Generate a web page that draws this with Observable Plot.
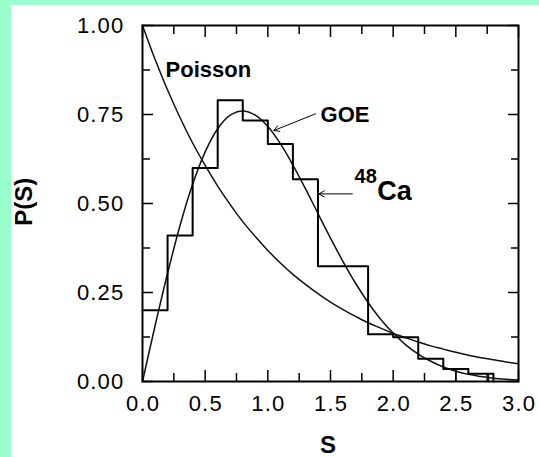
<!DOCTYPE html>
<html><head><meta charset="utf-8">
<script src="https://cdn.jsdelivr.net/npm/d3@7"></script>
<script src="https://cdn.jsdelivr.net/npm/@observablehq/plot@0.6"></script>
<style>
html,body{margin:0;padding:0;background:#99ffcc;width:539px;height:457px;overflow:hidden}
#panel{position:absolute;left:11px;top:5px;width:528px;height:452px;background:#fff}
.ticklab text{letter-spacing:1.2px}
</style></head>
<body><div id="panel"></div>
<script>
// spacing values S
const sGrid = [0,0.1,0.2,0.3,0.4,0.5,0.6,0.7,0.8,0.9,1.0,1.1,1.2,1.3,1.4,1.5,1.6,1.7,1.8,1.9,2.0,2.1,2.2,2.3,2.4,2.5,2.6,2.7,2.8,2.9,3.0];
// Poisson curve values
const poisson = [1.00,0.905,0.819,0.741,0.670,0.607,0.549,0.497,0.449,0.407,0.368,0.333,0.301,0.273,0.247,0.223,0.202,0.183,0.165,0.150,0.135,0.123,0.111,0.100,0.091,0.082,0.074,0.067,0.061,0.055,0.050];
// GOE curve values
const goe = [0,0.156,0.304,0.439,0.554,0.645,0.710,0.748,0.760,0.748,0.716,0.668,0.608,0.542,0.472,0.403,0.337,0.276,0.222,0.175,0.136,0.103,0.077,0.057,0.041,0.029,0.020,0.014,0.009,0.006,0.004];
// 48Ca histogram
const binStarts = [0,0.2,0.4,0.6,0.8,1.0,1.2,1.4,1.6,1.8,2.0,2.2,2.4,2.6,2.8];
const binHeights = [0.20,0.41,0.60,0.79,0.733,0.667,0.568,0.324,0.324,0.133,0.124,0.064,0.035,0.022,0];
const tailS = [2.5,2.76];
const tailP = [0.035,0.022];
// ticks
const xLabels = [0,0.5,1.0,1.5,2.0,2.5,3.0];
const xMinor = [0.25,0.75,1.25,1.75,2.25,2.75];
const yLabels = [0,0.25,0.5,0.75,1.0];
const yMinor = [0.125,0.375,0.625,0.875];

const curveP = sGrid.map((s,i)=>({s, p: poisson[i]}));
const curveG = sGrid.map((s,i)=>({s, p: goe[i]}));
const hist = binStarts.map((s,i)=>({s, p: binHeights[i]}));
const tail = tailS.map((s,i)=>({s, p: tailP[i]}));

const font = "'Liberation Sans', Arial, Helvetica, sans-serif";
const majorLen = -11, minorLen = -8;

const chart = Plot.plot({
  width: 528, height: 452,
  marginLeft: 131, marginRight: 21, marginTop: 20, marginBottom: 76,
  style: {fontFamily: font, background: "transparent", color: "#000", overflow: "visible"},
  x: {domain: [0, 3], axis: null},
  y: {domain: [0, 1], axis: null},
  marks: [
    // inward ticks on all sides
    Plot.axisX(xLabels, {anchor: "bottom", tickSize: majorLen, tickFormat: () => "", label: null, strokeWidth: 1.5}),
    Plot.axisX(xMinor, {anchor: "bottom", tickSize: minorLen, tickFormat: () => "", label: null, strokeWidth: 1.5}),
    Plot.axisX(xLabels, {anchor: "top", tickSize: majorLen, tickFormat: () => "", label: null, strokeWidth: 1.5}),
    Plot.axisX(xMinor, {anchor: "top", tickSize: minorLen, tickFormat: () => "", label: null, strokeWidth: 1.5}),
    Plot.axisY(yLabels, {anchor: "left", tickSize: majorLen, tickFormat: () => "", label: null, strokeWidth: 1.5}),
    Plot.axisY(yMinor, {anchor: "left", tickSize: minorLen, tickFormat: () => "", label: null, strokeWidth: 1.5}),
    Plot.axisY(yLabels, {anchor: "right", tickSize: majorLen, tickFormat: () => "", label: null, strokeWidth: 1.5}),
    Plot.axisY(yMinor, {anchor: "right", tickSize: minorLen, tickFormat: () => "", label: null, strokeWidth: 1.5}),
    // tick labels
    Plot.axisX(xLabels, {anchor: "bottom", tickSize: 0, tickPadding: 14, dx: 0.6, tickFormat: d3.format(".1f"), label: null, fontSize: 22, className: "ticklab"}),
    Plot.axisY(yLabels, {anchor: "left", tickSize: 0, tickPadding: 18, tickFormat: d3.format(".2f"), label: null, fontSize: 22, className: "ticklab"}),
    // curves
    Plot.line(curveP, {x: "s", y: "p", curve: "catmull-rom", stroke: "#111", strokeWidth: 1.5}),
    Plot.line(curveG, {x: "s", y: "p", curve: "catmull-rom", stroke: "#111", strokeWidth: 1.5}),
    // histogram
    Plot.line(hist, {x: "s", y: "p", curve: "step-after", stroke: "#000", strokeWidth: 2}),
    Plot.ruleX(tail, {x: "s", y1: 0, y2: "p", stroke: "#000", strokeWidth: 1.5}),
    Plot.frame({stroke: "#000", strokeWidth: 2}),
    // annotations
    Plot.text(["Poisson"], {x: 0.184, y: 0.874, textAnchor: "start", fontSize: 22, fontWeight: "bold"}),
    Plot.text(["GOE"], {x: 1.421, y: 0.748, textAnchor: "start", fontSize: 22, fontWeight: "bold"}),
    Plot.arrow([0], {x1: 1.381, y1: 0.752, x2: 1.048, y2: 0.705, stroke: "#000", strokeWidth: 1, headLength: 9}),
    Plot.text(["48"], {x: 1.692, y: 0.575, textAnchor: "start", fontSize: 20, fontWeight: "bold"}),
    Plot.text(["Ca"], {x: 1.873, y: 0.535, textAnchor: "start", fontSize: 27, fontWeight: "bold"}),
    Plot.arrow([0], {x1: 1.674, y1: 0.527, x2: 1.408, y2: 0.527, stroke: "#000", strokeWidth: 1, headLength: 9}),
    // axis titles
    Plot.text(["S"], {frameAnchor: "bottom", lineAnchor: "top", dy: 54, dx: -2.5, fontSize: 24, fontWeight: "bold"}),
    Plot.text(["P(S)"], {x: -0.94, y: 0.505, rotate: -90, fontSize: 24, fontWeight: "bold", clip: false})
  ]
});
document.getElementById("panel").appendChild(chart);
</script>
</body></html>
